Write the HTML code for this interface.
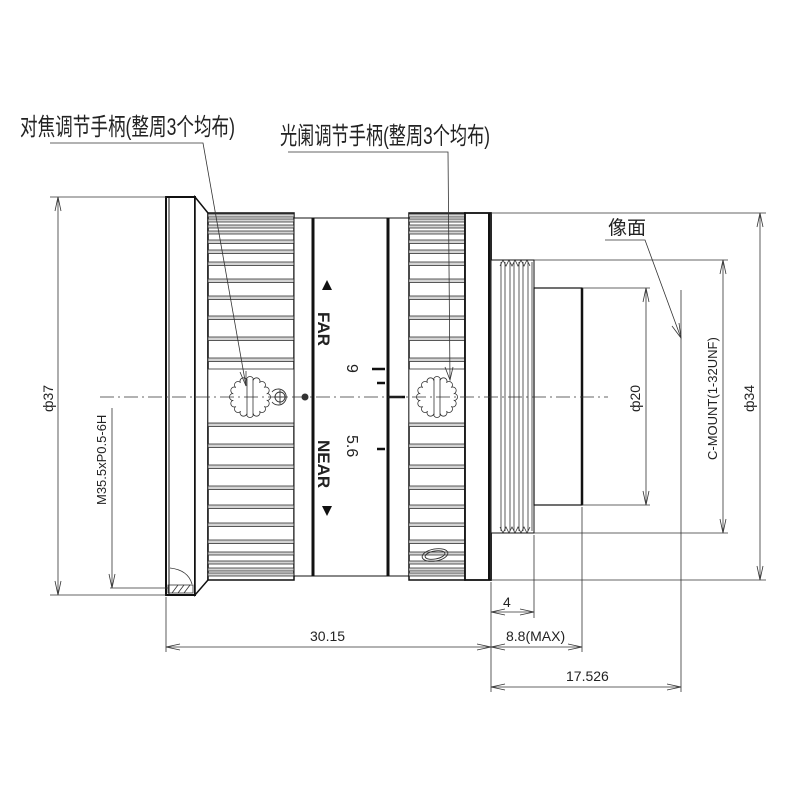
<!DOCTYPE html>
<html><head><meta charset="utf-8"><style>
html,body{margin:0;padding:0;background:#fff}
svg{display:block}
text{font-family:"Liberation Sans","Noto Sans CJK SC",sans-serif;fill:#222}
</style></head><body>
<svg width="800" height="800" viewBox="0 0 800 800" xmlns="http://www.w3.org/2000/svg">
<defs>
<g id="ridgesF" fill="#d4d4d4" stroke="#333" stroke-width="0.8">
<rect x="0" y="214" width="86" height="3"/><rect x="0" y="219" width="86" height="3"/><rect x="0" y="225" width="86" height="3"/>
<rect x="0" y="231" width="86" height="3"/><rect x="0" y="240" width="86" height="3.5"/><rect x="0" y="250" width="86" height="3.5"/>
<rect x="0" y="262" width="86" height="3.5"/><rect x="0" y="279" width="86" height="3.5"/><rect x="0" y="296" width="86" height="3.5"/>
<rect x="0" y="316" width="86" height="3.5"/><rect x="0" y="337" width="86" height="3.5"/><rect x="0" y="358" width="86" height="3.5"/>
<rect x="0" y="423" width="86" height="3.5"/><rect x="0" y="444" width="86" height="3.5"/><rect x="0" y="465" width="86" height="3.5"/>
<rect x="0" y="486" width="86" height="3.5"/><rect x="0" y="505" width="86" height="3.5"/><rect x="0" y="523" width="86" height="3.5"/>
<rect x="0" y="540" width="86" height="3.5"/><rect x="0" y="552" width="86" height="3"/><rect x="0" y="561" width="86" height="3"/>
<rect x="0" y="568" width="86" height="3"/><rect x="0" y="573" width="86" height="3"/>
</g>
<g id="gear">
<g fill="#fff" stroke="#333" stroke-width="0.8">
<circle cx="17" cy="0" r="3.5"/><circle cx="15.7" cy="6.5" r="3.5"/><circle cx="12" cy="12" r="3.5"/><circle cx="6.5" cy="15.7" r="3.5"/>
<circle cx="0" cy="17" r="3.5"/><circle cx="-6.5" cy="15.7" r="3.5"/><circle cx="-12" cy="12" r="3.5"/><circle cx="-15.7" cy="6.5" r="3.5"/>
<circle cx="-17" cy="0" r="3.5"/><circle cx="-15.7" cy="-6.5" r="3.5"/><circle cx="-12" cy="-12" r="3.5"/><circle cx="-6.5" cy="-15.7" r="3.5"/>
<circle cx="0" cy="-17" r="3.5"/><circle cx="6.5" cy="-15.7" r="3.5"/><circle cx="12" cy="-12" r="3.5"/><circle cx="15.7" cy="-6.5" r="3.5"/>
</g>
<circle r="17" fill="#fff"/>
<line x1="-3" y1="-18" x2="-3" y2="18" stroke="#333" stroke-width="0.8"/>
<line x1="3" y1="-18" x2="3" y2="18" stroke="#333" stroke-width="0.8"/>
</g>
</defs>

<text x="20" y="135" font-size="24" textLength="215" lengthAdjust="spacingAndGlyphs">对焦调节手柄(整周3个均布)</text>
<text x="280" y="144" font-size="24" textLength="210" lengthAdjust="spacingAndGlyphs">光阑调节手柄(整周3个均布)</text>

<g stroke="#111" fill="#fff">
<rect x="166" y="197" width="29" height="398" stroke-width="2"/>
<line x1="169" y1="198" x2="169" y2="594" stroke-width="1"/>
<polygon points="195,197 208,213 208,580 195,595" stroke-width="1.5"/>
<rect x="208" y="213" width="86" height="367" stroke-width="1.5"/>
</g>
<use href="#ridgesF" x="208"/>
<rect x="208" y="369" width="86" height="54" fill="#fff" stroke="#333" stroke-width="0.8"/>
<g stroke="#333" stroke-width="0.8" fill="none">
<rect x="168" y="585" width="25" height="8"/>
<path d="M172,593 l6,-8 M178,593 l6,-8 M184,593 l6,-8"/>
<path d="M170,568 q18,2 22,16"/>
</g>

<g stroke="#111" fill="#fff">
<rect x="294" y="218" width="19" height="358" stroke-width="1"/>
<rect x="313" y="218" width="75" height="358" stroke-width="1"/>
<rect x="388" y="218" width="21" height="358" stroke-width="1"/>
</g>
<line x1="313" y1="218" x2="313" y2="576" stroke="#111" stroke-width="3"/>
<line x1="388" y1="218" x2="388" y2="576" stroke="#111" stroke-width="3"/>

<rect x="409" y="213" width="56" height="367" fill="#fff" stroke="#111" stroke-width="1.5"/>
<svg x="409" y="0" width="56" height="800" viewBox="0 0 86 800" preserveAspectRatio="none"><use href="#ridgesF"/></svg>
<rect x="409" y="369" width="56" height="54" fill="#fff" stroke="#333" stroke-width="0.8"/>
<rect x="465" y="213" width="26" height="367" fill="#fff" stroke="#111" stroke-width="1.8"/>
<line x1="489" y1="213" x2="489" y2="580" stroke="#111" stroke-width="2"/>

<use href="#gear" x="250" y="397"/>
<use href="#gear" x="437" y="397"/>
<g stroke="#333" stroke-width="0.9" fill="none">
<path d="M272,392 a8,8 0 1 1 0,10"/><circle cx="280" cy="397" r="5"/>
<line x1="280" y1="390" x2="280" y2="404"/><line x1="274" y1="397" x2="286" y2="397"/>
<ellipse cx="435" cy="555" rx="13" ry="6" transform="rotate(-10 435 555)"/>
<ellipse cx="435" cy="555" rx="10" ry="4" transform="rotate(-10 435 555)"/>
</g>
<circle cx="305" cy="397" r="3.5" fill="#333"/>

<g stroke="#333" stroke-width="0.8" fill="none">
<polyline points="50,143 203,143 246,386"/>
<path d="M240,372 L246,386 L246,371"/>
<polyline points="288,152 448,152 450,380"/>
<path d="M445,367 L450,380 L453,367"/>
</g>

<polygon points="322,290 332,290 327,280" fill="#111"/>
<polygon points="322,506 332,506 327,516" fill="#111"/>
<text transform="translate(318,312) rotate(90)" font-size="17" font-weight="bold">FAR</text>
<text transform="translate(318,440) rotate(90)" font-size="17" font-weight="bold">NEAR</text>
<text transform="translate(347,364) rotate(90)" font-size="16">9</text>
<text transform="translate(347,435) rotate(90)" font-size="16">5.6</text>
<g stroke="#111" stroke-width="2.5">
<line x1="372" y1="369" x2="385" y2="369"/><line x1="377" y1="383" x2="385" y2="383"/>
<line x1="377" y1="449" x2="385" y2="449"/><line x1="388" y1="397" x2="405" y2="397"/>
</g>

<g stroke="#111" fill="#fff">
<rect x="491" y="260" width="43" height="273" stroke-width="1"/>
<rect x="534" y="288" width="48" height="217" stroke-width="1.2"/>
<line x1="582" y1="288" x2="582" y2="505" stroke-width="2.5"/>
</g>
<g stroke="#333" stroke-width="0.8" fill="none">
<line x1="501" y1="262" x2="501" y2="531"/><line x1="505" y1="262" x2="505" y2="531"/>
<line x1="510" y1="262" x2="510" y2="531"/><line x1="514" y1="262" x2="514" y2="531"/>
<line x1="519" y1="262" x2="519" y2="531"/><line x1="523" y1="262" x2="523" y2="531"/>
<line x1="528" y1="262" x2="528" y2="531"/><line x1="532" y1="262" x2="532" y2="531"/>
<path d="M500,266 l3,-6 l3,6 l3,-6 l3,6 l3,-6 l3,6 l3,-6 l3,6 l3,-6 l3,6 M500,527 l3,6 l3,-6 l3,6 l3,-6 l3,6 l3,-6 l3,6 l3,-6 l3,6 l3,-6"/>
</g>

<line x1="100" y1="397" x2="608" y2="397" stroke="#333" stroke-width="0.8" stroke-dasharray="14,4,2,4"/>

<g stroke="#333" stroke-width="0.8" fill="none">
<line x1="50" y1="197" x2="166" y2="197"/><line x1="50" y1="595" x2="166" y2="595"/>
<line x1="58" y1="197" x2="58" y2="595"/>
<path d="M55,211 L58,197 L61,211 M55,581 L58,595 L61,581"/>
<line x1="110" y1="588" x2="168" y2="588"/><line x1="112" y1="408" x2="112" y2="588"/>
<path d="M109,574 L112,588 L115,574"/>
<line x1="491" y1="213" x2="766" y2="213"/><line x1="491" y1="580" x2="766" y2="580"/>
<line x1="760" y1="213" x2="760" y2="580"/>
<path d="M757,227 L760,213 L763,227 M757,566 L760,580 L763,566"/>
<line x1="534" y1="260" x2="728" y2="260"/><line x1="534" y1="533" x2="728" y2="533"/>
<line x1="723" y1="260" x2="723" y2="533"/>
<path d="M720,274 L723,260 L726,274 M720,519 L723,533 L726,519"/>
<line x1="582" y1="288" x2="650" y2="288"/><line x1="582" y1="505" x2="650" y2="505"/>
<line x1="646" y1="288" x2="646" y2="505"/>
<path d="M643,302 L646,288 L649,302 M643,491 L646,505 L649,491"/>
<line x1="681" y1="290" x2="681" y2="692"/>
<polyline points="605,240 645,240 681,338"/>
<path d="M672,326 L681,338 L679,323"/>
<line x1="166" y1="597" x2="166" y2="652"/>
<line x1="491" y1="582" x2="491" y2="692"/>
<line x1="534" y1="535" x2="534" y2="618"/>
<line x1="582" y1="507" x2="582" y2="652"/>
<line x1="491" y1="612" x2="534" y2="612"/>
<path d="M505,609 L491,612 L505,615 M520,609 L534,612 L520,615"/>
<line x1="166" y1="647" x2="582" y2="647"/>
<path d="M180,644 L166,647 L180,650 M477,644 L491,647 L477,650 M505,644 L491,647 L505,650 M568,644 L582,647 L568,650"/>
<line x1="491" y1="687" x2="681" y2="687"/>
<path d="M505,684 L491,687 L505,690 M667,684 L681,687 L667,690"/>
</g>
<g font-size="14">
<text x="503" y="607">4</text>
<text x="506" y="641">8.8(MAX)</text>
<text x="310" y="641">30.15</text>
<text x="566" y="681">17.526</text>
<text x="608" y="234" font-size="19">像面</text>
<text transform="translate(53,412) rotate(-90)">ф37</text>
<text transform="translate(106,505) rotate(-90)" font-size="13">M35.5xP0.5-6H</text>
<text transform="translate(640,412) rotate(-90)">ф20</text>
<text transform="translate(717,460) rotate(-90)" font-size="13">C-MOUNT(1-32UNF)</text>
<text transform="translate(754,412) rotate(-90)">ф34</text>
</g>
</svg>
</body></html>
